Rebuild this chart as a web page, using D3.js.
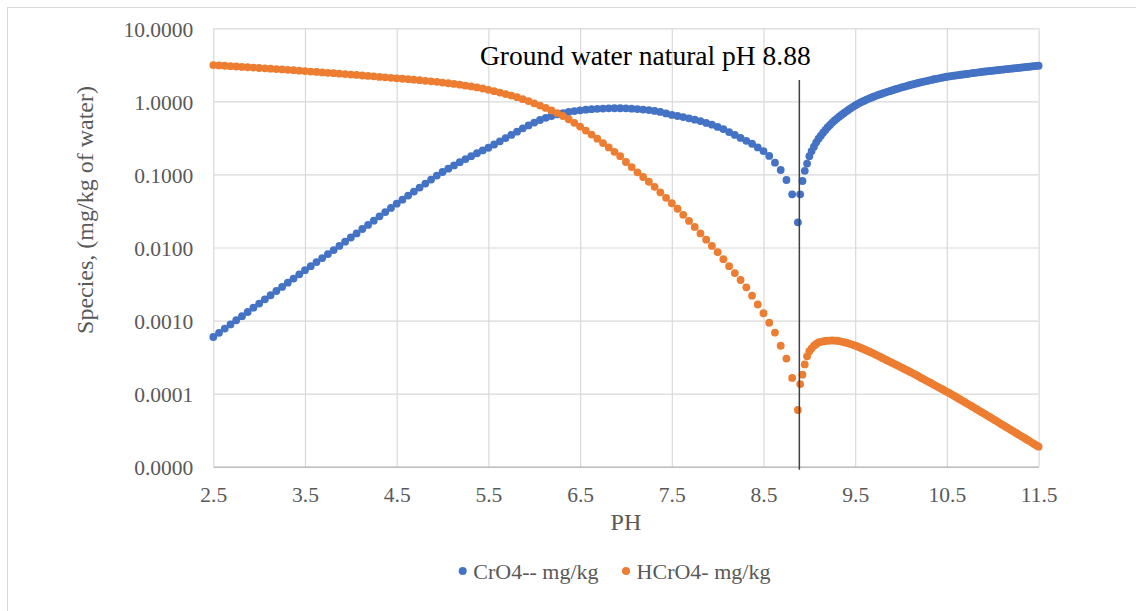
<!DOCTYPE html>
<html>
<head>
<meta charset="utf-8">
<script src="https://cdn.jsdelivr.net/npm/d3@7"></script>
<style>
  body { margin: 0; background: #fff; }
  svg text { font-family: "Liberation Serif", "Times New Roman", serif; }
</style>
</head>
<body>
<div id="chart"></div>
<script>
// pH sample points (acid side, up to the dip)
const phAcid = [2.5, 2.5625, 2.625, 2.6875, 2.75, 2.8125, 2.875, 2.9375, 3, 3.0625, 3.125, 3.1875, 3.25, 3.3125, 3.375, 3.4375,
  3.5, 3.5625, 3.625, 3.6875, 3.75, 3.8125, 3.875, 3.9375, 4, 4.0625, 4.125, 4.1875, 4.25, 4.3125, 4.375, 4.4375,
  4.5, 4.5625, 4.625, 4.6875, 4.75, 4.8125, 4.875, 4.9375, 5, 5.0625, 5.125, 5.1875, 5.25, 5.3125, 5.375, 5.4375,
  5.5, 5.5625, 5.625, 5.6875, 5.75, 5.8125, 5.875, 5.9375, 6, 6.0625, 6.125, 6.1875, 6.25, 6.3125, 6.375, 6.4375,
  6.5, 6.5625, 6.625, 6.6875, 6.75, 6.8125, 6.875, 6.9375, 7, 7.0625, 7.125, 7.1875, 7.25, 7.3125, 7.375, 7.4375,
  7.5, 7.5625, 7.625, 7.6875, 7.75, 7.8125, 7.875, 7.9375, 8, 8.0625, 8.125, 8.1875, 8.25, 8.3125, 8.375, 8.4375,
  8.5, 8.5625, 8.625, 8.6875, 8.75, 8.8125, 8.875];
// pH sample points (alkaline side)
const phAlk = [8.9, 8.925, 8.95, 8.975, 9, 9.025, 9.05, 9.075,
  9.1, 9.125, 9.15, 9.175, 9.2, 9.225, 9.25, 9.275,
  9.3, 9.325, 9.35, 9.375, 9.4, 9.425, 9.45, 9.475,
  9.5, 9.525, 9.55, 9.575, 9.6, 9.625, 9.65, 9.675,
  9.7, 9.725, 9.75, 9.775, 9.8, 9.825, 9.85, 9.875,
  9.9, 9.925, 9.95, 9.975, 10, 10.025, 10.05, 10.075,
  10.1, 10.125, 10.15, 10.175, 10.2, 10.225, 10.25, 10.275,
  10.3, 10.325, 10.35, 10.375, 10.4, 10.425, 10.45, 10.475,
  10.5, 10.525, 10.55, 10.575, 10.6, 10.625, 10.65, 10.675,
  10.7, 10.725, 10.75, 10.775, 10.8, 10.825, 10.85, 10.875,
  10.9, 10.925, 10.95, 10.975, 11, 11.025, 11.05, 11.075,
  11.1, 11.125, 11.15, 11.175, 11.2, 11.225, 11.25, 11.275,
  11.3, 11.325, 11.35, 11.375, 11.4, 11.425, 11.45, 11.475,
  11.5];

// CrO4-- mg/kg
const cro4Acid = [0.000596, 0.000679, 0.000776, 0.000885, 0.00101, 0.00115, 0.00131, 0.00150, 0.00171, 0.00195, 0.00222, 0.00254, 0.00289, 0.00330, 0.00376, 0.00429,
  0.00490, 0.00556, 0.00631, 0.00716, 0.00813, 0.00923, 0.0105, 0.0120, 0.0137, 0.0156, 0.0179, 0.0204, 0.0233, 0.0267, 0.0305, 0.0348,
  0.0398, 0.0452, 0.0513, 0.0582, 0.0661, 0.0750, 0.0851, 0.0966, 0.108, 0.120, 0.133, 0.147, 0.162, 0.178, 0.195, 0.213,
  0.232, 0.257, 0.284, 0.314, 0.347, 0.385, 0.427, 0.468, 0.513, 0.556, 0.596, 0.631, 0.664, 0.692, 0.716, 0.736,
  0.753, 0.769, 0.782, 0.791, 0.798, 0.804, 0.805, 0.805, 0.802, 0.794, 0.785, 0.773, 0.759, 0.741, 0.716, 0.684,
  0.653, 0.631, 0.610, 0.586, 0.562, 0.537, 0.507, 0.479, 0.447, 0.417, 0.380, 0.347, 0.316, 0.288, 0.263, 0.234,
  0.209, 0.179, 0.145, 0.115, 0.0839, 0.0535, 0.0221];
const cro4Alk = [0.0535, 0.0813, 0.112, 0.141, 0.178, 0.209, 0.240, 0.275,
  0.309, 0.339, 0.372, 0.406, 0.442, 0.476, 0.513, 0.547,
  0.582, 0.617, 0.653, 0.689, 0.724, 0.764, 0.804, 0.841,
  0.881, 0.918, 0.955, 0.989, 1.023, 1.057, 1.091, 1.125,
  1.159, 1.191, 1.225, 1.256, 1.288, 1.318, 1.349, 1.380,
  1.413, 1.445, 1.476, 1.507, 1.542, 1.574, 1.607, 1.641,
  1.675, 1.706, 1.738, 1.770, 1.803, 1.837, 1.866, 1.897,
  1.928, 1.959, 1.991, 2.023, 2.051, 2.084, 2.113, 2.143,
  2.173, 2.198, 2.218, 2.244, 2.265, 2.291, 2.312, 2.333,
  2.355, 2.382, 2.404, 2.432, 2.455, 2.477, 2.500, 2.523,
  2.547, 2.570, 2.588, 2.612, 2.630, 2.655, 2.673, 2.698,
  2.716, 2.742, 2.761, 2.786, 2.805, 2.825, 2.844, 2.871,
  2.891, 2.917, 2.938, 2.965, 2.985, 3.006, 3.027, 3.055,
  3.076];

// HCrO4- mg/kg
const hcro4Acid = [3.14, 3.10, 3.07, 3.03, 3.00, 2.96, 2.93, 2.90, 2.86, 2.83, 2.80, 2.77, 2.74, 2.70, 2.67, 2.63,
  2.60, 2.56, 2.53, 2.49, 2.46, 2.43, 2.39, 2.36, 2.33, 2.30, 2.26, 2.23, 2.20, 2.16, 2.13, 2.10,
  2.07, 2.04, 2.01, 1.98, 1.95, 1.91, 1.88, 1.85, 1.81, 1.77, 1.73, 1.69, 1.64, 1.60, 1.55, 1.50,
  1.44, 1.38, 1.32, 1.26, 1.20, 1.14, 1.07, 1.01, 0.940, 0.875, 0.813, 0.752, 0.692, 0.631, 0.569, 0.509,
  0.452, 0.398, 0.351, 0.309, 0.269, 0.234, 0.204, 0.178, 0.148, 0.126, 0.107, 0.0923, 0.0794, 0.0676, 0.0569, 0.0479,
  0.0403, 0.0339, 0.0280, 0.0231, 0.0191, 0.0156, 0.0128, 0.0105, 0.00861, 0.00692, 0.00556, 0.00447, 0.00359, 0.00285, 0.00219, 0.00166,
  0.00126, 0.000933, 0.000684, 0.000452, 0.000302, 0.000164, 0.0000597];
const hcro4Alk = [1.35e-4, 1.82e-4, 2.51e-4, 3.24e-4, 3.80e-4, 4.17e-4, 4.52e-4, 4.79e-4,
  5.01e-4, 5.11e-4, 5.19e-4, 5.25e-4, 5.31e-4, 5.33e-4, 5.35e-4, 5.33e-4,
  5.30e-4, 5.22e-4, 5.15e-4, 5.07e-4, 4.98e-4, 4.88e-4, 4.76e-4, 4.66e-4,
  4.55e-4, 4.42e-4, 4.29e-4, 4.16e-4, 4.03e-4, 3.90e-4, 3.78e-4, 3.66e-4,
  3.53e-4, 3.41e-4, 3.29e-4, 3.18e-4, 3.06e-4, 2.95e-4, 2.85e-4, 2.75e-4,
  2.65e-4, 2.56e-4, 2.47e-4, 2.38e-4, 2.29e-4, 2.21e-4, 2.13e-4, 2.06e-4,
  1.98e-4, 1.91e-4, 1.84e-4, 1.77e-4, 1.70e-4, 1.63e-4, 1.57e-4, 1.51e-4,
  1.45e-4, 1.40e-4, 1.34e-4, 1.29e-4, 1.24e-4, 1.19e-4, 1.15e-4, 1.10e-4,
  1.06e-4, 1.02e-4, 9.77e-5, 9.38e-5, 9.00e-5, 8.61e-5, 8.26e-5, 7.91e-5,
  7.59e-5, 7.26e-5, 6.97e-5, 6.67e-5, 6.40e-5, 6.12e-5, 5.87e-5, 5.62e-5,
  5.38e-5, 5.15e-5, 4.93e-5, 4.72e-5, 4.52e-5, 4.33e-5, 4.14e-5, 3.96e-5,
  3.79e-5, 3.63e-5, 3.48e-5, 3.33e-5, 3.18e-5, 3.05e-5, 2.92e-5, 2.79e-5,
  2.67e-5, 2.56e-5, 2.45e-5, 2.34e-5, 2.24e-5, 2.14e-5, 2.05e-5, 1.96e-5,
  1.88e-5];

const seriesNames = ["CrO4-- mg/kg", "HCrO4- mg/kg"];
const seriesColors = ["#4472c4", "#ed7d31"];
const xTicks = [2.5, 3.5, 4.5, 5.5, 6.5, 7.5, 8.5, 9.5, 10.5, 11.5];
const yTicks = [0.00001, 0.0001, 0.001, 0.01, 0.1, 1, 10];
const naturalPH = 8.88;

// layout
const width = 1136, height = 611;
const plotLeft = 213.3, plotRight = 1038.6, plotTop = 28.3, plotBottom = 466.7;
const textColor = "#595959";

const svg = d3.select("#chart")
  .append("svg")
  .attr("width", width)
  .attr("height", height);

svg.append("rect")
  .attr("x", 7.5).attr("y", 7.5)
  .attr("width", width).attr("height", height)
  .attr("fill", "#fff")
  .attr("stroke", "#d9d9d9");

const x = d3.scaleLinear().domain([2.5, 11.5]).range([plotLeft, plotRight]);
const y = d3.scaleLog().domain([0.00001, 10]).range([plotBottom, plotTop]);

// grid
svg.append("g")
  .attr("transform", `translate(${ plotLeft }, 0)`)
  .call(d3.axisLeft(y).tickValues(yTicks).tickSize(-(plotRight - plotLeft)).tickFormat(""))
  .call(g => g.select(".domain").remove())
  .call(g => g.selectAll("line").attr("stroke", "#d9d9d9").attr("stroke-width", 1.2));

svg.append("g")
  .attr("transform", `translate(0, ${ plotBottom })`)
  .call(d3.axisBottom(x).tickValues(xTicks).tickSize(-(plotBottom - plotTop)).tickFormat(""))
  .call(g => g.select(".domain").remove())
  .call(g => g.selectAll("line").attr("stroke", "#d9d9d9").attr("stroke-width", 1.2));

// x axis
svg.append("g")
  .attr("id", "x-axis")
  .attr("transform", `translate(0, ${ plotBottom })`)
  .call(d3.axisBottom(x).tickValues(xTicks).tickSize(0).tickPadding(20.5).tickFormat(d3.format(".1f")))
  .call(g => g.select(".domain").attr("stroke", "#bfbfbf").attr("stroke-width", 1.5))
  .call(g => g.selectAll("text").attr("fill", textColor).attr("font-size", "21.5px"));

// y axis
svg.append("g")
  .attr("id", "y-axis")
  .attr("transform", `translate(${ plotLeft }, 0)`)
  .call(d3.axisLeft(y).tickValues(yTicks).tickSize(0).tickPadding(20).tickFormat(d3.format(".4f")))
  .call(g => g.select(".domain").remove())
  .call(g => g.selectAll("text").attr("fill", textColor).attr("font-size", "21.5px").attr("dy", "0.38em"));

// axis titles
svg.append("text")
  .attr("x", (plotLeft + plotRight) / 2)
  .attr("y", 530)
  .attr("text-anchor", "middle")
  .attr("font-size", "24px")
  .attr("fill", textColor)
  .text("PH");

svg.append("text")
  .attr("transform", "translate(93, 210) rotate(-90)")
  .attr("text-anchor", "middle")
  .attr("font-size", "24px")
  .attr("fill", textColor)
  .text("Species, (mg/kg of water)");

// series
const series = [
  { ph: phAcid.concat(phAlk), values: cro4Acid.concat(cro4Alk) },
  { ph: phAcid.concat(phAlk), values: hcro4Acid.concat(hcro4Alk) }
];

series.forEach((s, i) => {
  svg.append("g")
    .selectAll("circle")
    .data(s.values)
    .enter()
    .append("circle")
    .attr("cx", (v, j) => x(s.ph[j]))
    .attr("cy", v => y(v))
    .attr("r", 3.9)
    .attr("fill", seriesColors[i]);
});

// natural pH marker
svg.append("line")
  .attr("x1", x(naturalPH) + 1).attr("x2", x(naturalPH) + 1)
  .attr("y1", 80).attr("y2", plotBottom + 3)
  .attr("stroke", "#404040")
  .attr("stroke-width", 1.5);

svg.append("text")
  .attr("x", 480)
  .attr("y", 65)
  .attr("font-size", "27.5px")
  .attr("fill", "#000")
  .text(`Ground water natural pH ${ naturalPH }`);

// legend
const legendX = [462.7, 626];
const legend = svg.append("g");
seriesNames.forEach((name, i) => {
  legend.append("circle")
    .attr("cx", legendX[i]).attr("cy", 571)
    .attr("r", 4)
    .attr("fill", seriesColors[i]);
  legend.append("text")
    .attr("x", legendX[i] + 10.6)
    .attr("y", 578.5)
    .attr("font-size", "22px")
    .attr("fill", textColor)
    .text(name);
});
</script>
</body>
</html>
